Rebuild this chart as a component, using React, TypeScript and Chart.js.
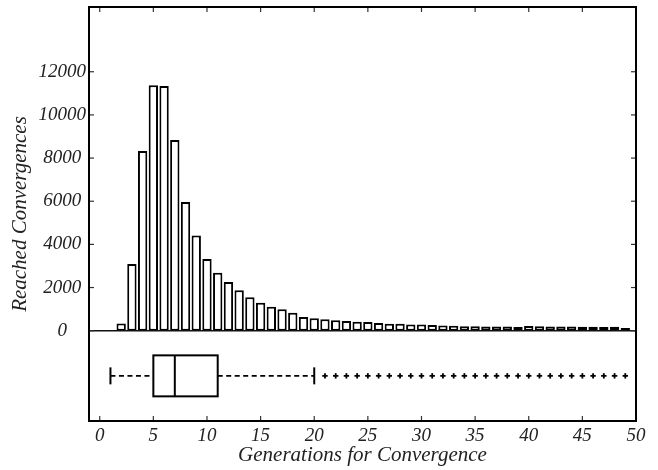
import React, { useEffect, useRef } from 'react';
import { Chart, registerables } from 'chart.js';

Chart.register(...registerables);

// ---- data ----
const generations = [
  0, 1, 2, 3, 4, 5, 6, 7, 8, 9, 10, 11, 12, 13, 14, 15, 16, 17, 18, 19, 20, 21, 22, 23, 24,
  25, 26, 27, 28, 29, 30, 31, 32, 33, 34, 35, 36, 37, 38, 39, 40, 41, 42, 43, 44, 45, 46, 47, 48, 49,
];
const counts = [
  15, 25, 330, 3090, 8330, 11370, 11340, 8840, 5960, 4410, 3320, 2690, 2260, 1870, 1550, 1300, 1110,
  1000, 830, 630, 580, 530, 480, 445, 415, 400, 355, 320, 320, 290, 290, 260, 245, 230, 205, 210, 200,
  200, 195, 175, 215, 205, 200, 195, 200, 185, 180, 175, 180, 120,
];
const xTicks = [0, 5, 10, 15, 20, 25, 30, 35, 40, 45, 50];
const yTicks = [0, 2000, 4000, 6000, 8000, 10000, 12000];
// whisker low, Q1, median, Q3, whisker high
const boxSummary = [1, 5, 7, 11, 20];
const outliers = [
  21, 22, 23, 24, 25, 26, 27, 28, 29, 30, 31, 32, 33, 34, 35, 36, 37, 38, 39, 40, 41, 42, 43, 44, 45,
  46, 47, 48, 49,
];

const X_MIN = -1;
const X_MAX = 50;
const Y_MAX = 15000;
const Y_MIN = -4184;

const FONT_FAMILY = "'Liberation Serif', 'DejaVu Serif', serif";

const framePlugin = {
  id: 'frameAndBox',
  afterDatasetsDraw(chart: any) {
    const { ctx, chartArea: a, scales } = chart;
    const xs = scales.x;
    const ys = scales.y;
    const line = (x1: number, y1: number, x2: number, y2: number) => {
      ctx.beginPath();
      ctx.moveTo(x1, y1);
      ctx.lineTo(x2, y2);
      ctx.stroke();
    };
    ctx.save();
    const y0 = ys.getPixelForValue(0);
    // separator between histogram and box plot
    ctx.strokeStyle = '#111';
    ctx.lineWidth = 1.5;
    line(a.left, y0, a.right, y0);

    // inward ticks
    const T = 5;
    ctx.strokeStyle = '#333';
    ctx.lineWidth = 1.2;
    for (const v of xTicks) {
      const px = xs.getPixelForValue(v);
      line(px, a.bottom, px, a.bottom - T);
      line(px, a.top, px, a.top + T);
    }
    for (const v of yTicks) {
      const py = ys.getPixelForValue(v);
      line(a.left, py, a.left + T, py);
      line(a.right, py, a.right - T, py);
    }

    // frame
    ctx.strokeStyle = '#000';
    ctx.lineWidth = 2;
    ctx.strokeRect(a.left, a.top, a.right - a.left, a.bottom - a.top);

    // box plot
    const [wLo, q1, med, q3, wHi] = boxSummary;
    const band = a.bottom - y0;
    const cy = (y0 + a.bottom) / 2;
    const bh = band * 0.227;
    const ch = band * 0.094;
    const X = (v: number) => xs.getPixelForValue(v);

    ctx.strokeStyle = '#000';
    ctx.lineWidth = 1.8;
    ctx.setLineDash([5, 3.5]);
    line(X(wLo), cy, X(q1), cy);
    line(X(q3), cy, X(wHi), cy);
    ctx.setLineDash([]);
    ctx.lineWidth = 2;
    line(X(wLo), cy - ch, X(wLo), cy + ch);
    line(X(wHi), cy - ch, X(wHi), cy + ch);
    ctx.strokeRect(X(q1), cy - bh, X(q3) - X(q1), bh * 2);
    line(X(med), cy - bh, X(med), cy + bh);

    // outliers as '+'
    ctx.lineWidth = 1.8;
    const r = 2.7;
    for (const v of outliers) {
      const px = X(v);
      line(px - r, cy, px + r, cy);
      line(px, cy - r, px, cy + r);
    }
    ctx.restore();
  },
};

export default function App() {
  const canvasRef = useRef<HTMLCanvasElement | null>(null);

  useEffect(() => {
    const canvas = canvasRef.current;
    if (!canvas) return;
    const tickFont = { family: FONT_FAMILY, size: 19, style: 'italic' as const };
    const titleFont = { family: FONT_FAMILY, size: 21, style: 'italic' as const };
    const chart = new Chart(canvas, {
      type: 'bar',
      data: {
        datasets: [
          {
            label: 'Reached Convergences',
            data: generations.map((g, i) => ({ x: g, y: counts[i] })),
            backgroundColor: '#ffffff',
            borderColor: '#000000',
            borderWidth: 2,
            borderSkipped: false,
            barPercentage: 0.87,
            categoryPercentage: 1,
          },
        ],
      },
      plugins: [framePlugin],
      options: {
        responsive: false,
        animation: false,
        devicePixelRatio: 1,
        layout: { padding: { top: 7, right: 22, left: 0, bottom: 0 } },
        plugins: { legend: { display: false }, tooltip: { enabled: false } },
        scales: {
          x: {
            type: 'linear',
            offset: false,
            min: X_MIN,
            max: X_MAX,
            grid: { display: false, drawTicks: false, offset: false },
            border: { display: false },
            afterBuildTicks: (s: any) => {
              s.ticks = xTicks.map((v) => ({ value: v }));
            },
            afterFit: (s: any) => {
              s.height = 49;
              s.paddingLeft = 0;
              s.paddingRight = 0;
            },
            ticks: {
              font: tickFont,
              color: '#222',
              padding: 4,
              maxRotation: 0,
              autoSkip: false,
              callback: (v: any) => String(v),
            },
            title: {
              display: true,
              text: 'Generations for Convergence',
              font: titleFont,
              color: '#222',
              padding: { top: 0, bottom: 2 },
            },
          },
          y: {
            type: 'linear',
            min: Y_MIN,
            max: Y_MAX,
            grid: { display: false, drawTicks: false },
            border: { display: false },
            afterBuildTicks: (s: any) => {
              s.ticks = yTicks.map((v) => ({ value: v }));
            },
            afterFit: (s: any) => {
              s.width = 89;
              s.paddingTop = 0;
              s.paddingBottom = 0;
            },
            ticks: {
              font: tickFont,
              color: '#222',
              padding: 3,
              crossAlign: 'center',
              autoSkip: false,
              callback: (v: any) => String(v),
            },
            title: {
              display: true,
              text: 'Reached Convergences',
              font: titleFont,
              color: '#222',
              padding: { top: 8, bottom: 0 },
            },
          },
        },
      },
    } as any);
    return () => chart.destroy();
  }, []);

  return (
    <div
      style={{
        position: 'fixed',
        left: 0,
        top: 0,
        width: 658,
        height: 470,
        background: '#ffffff',
      }}
    >
      <canvas ref={canvasRef} width={658} height={470} style={{ display: 'block' }} />
    </div>
  );
}
